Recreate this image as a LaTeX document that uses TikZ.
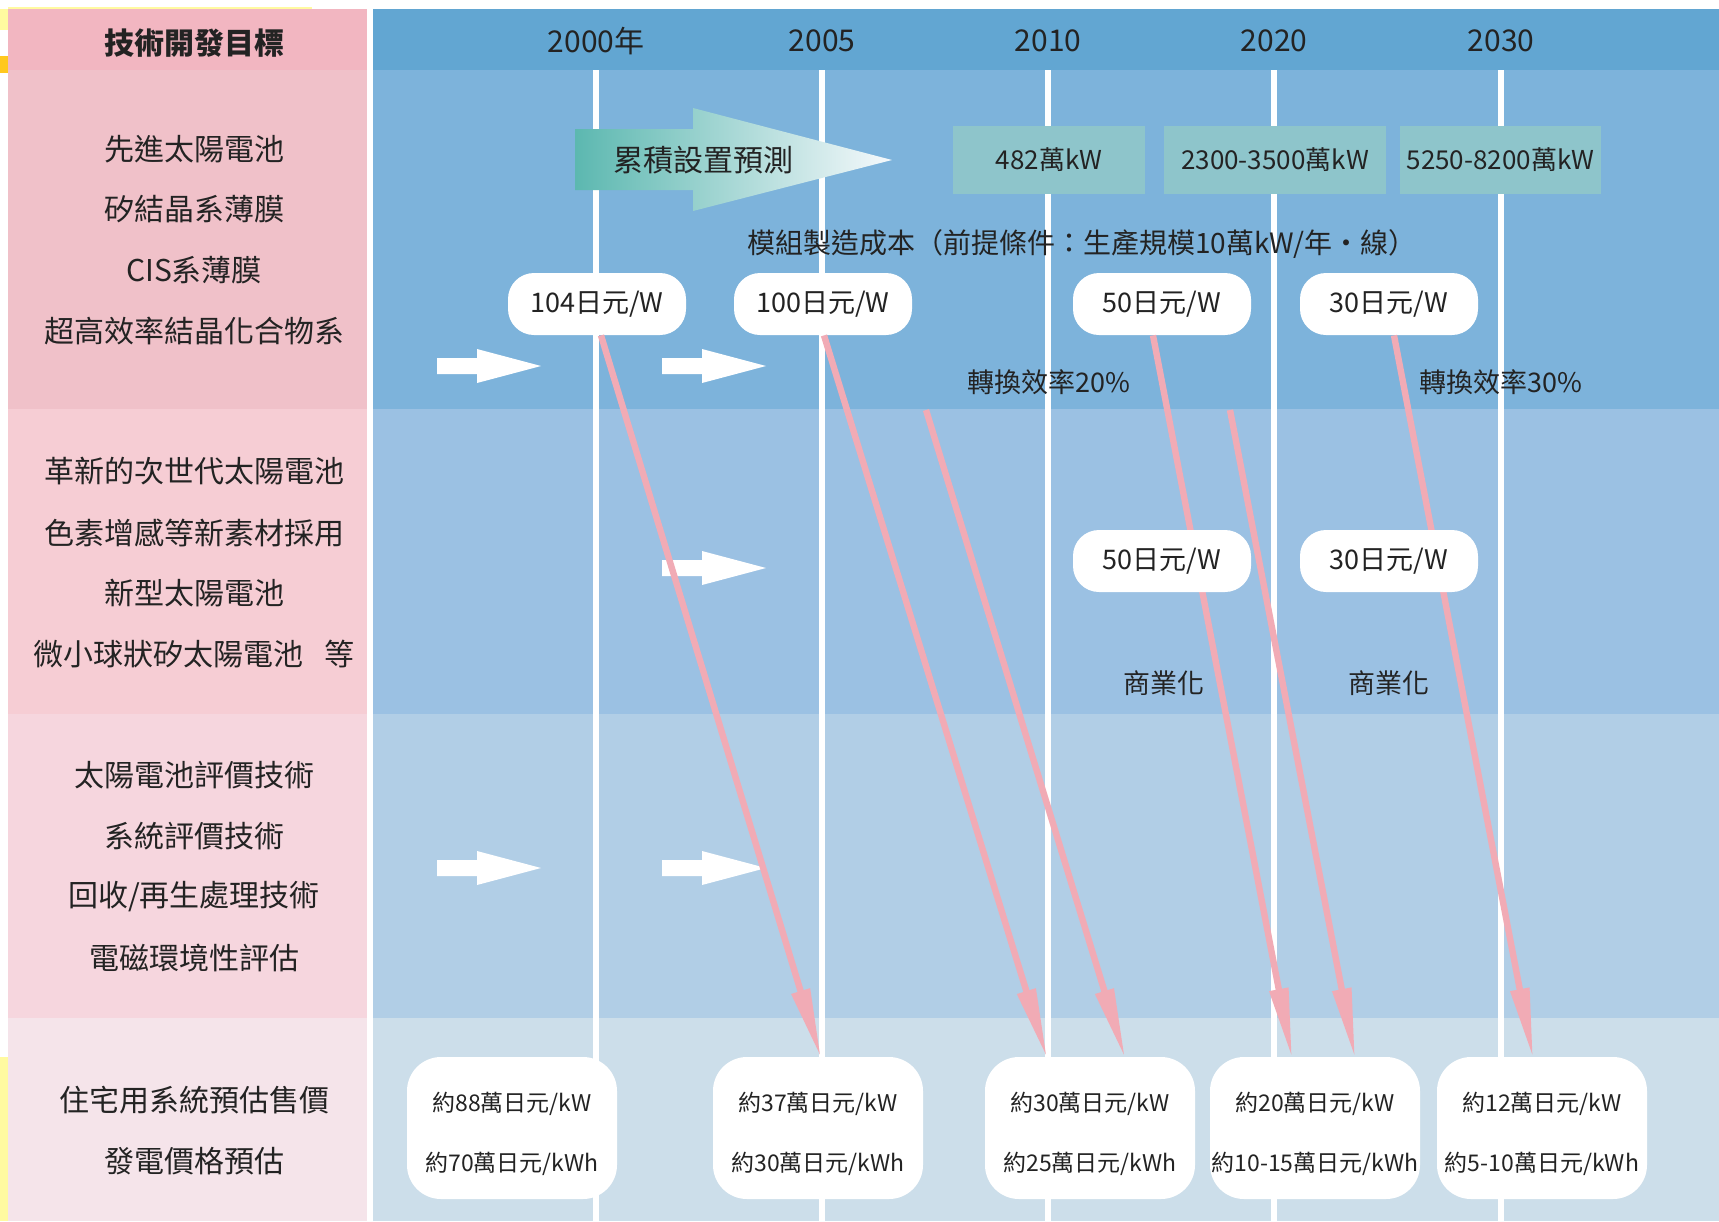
\documentclass[tikz,border=0pt]{standalone}
\usepackage{fontspec}
\setmainfont{Noto Sans CJK TC}
\usetikzlibrary{arrows.meta}
\definecolor{pkH}{RGB}{242,182,193}
\definecolor{pkA}{RGB}{240,193,201}
\definecolor{pkB}{RGB}{246,205,212}
\definecolor{pkC}{RGB}{246,214,222}
\definecolor{pkD}{RGB}{245,228,234}
\definecolor{blH}{RGB}{98,166,210}
\definecolor{blA}{RGB}{125,179,219}
\definecolor{blB}{RGB}{155,193,227}
\definecolor{blC}{RGB}{177,206,230}
\definecolor{blD}{RGB}{204,222,234}
\definecolor{tealbox}{RGB}{142,197,203}
\definecolor{tealL}{RGB}{92,184,176}
\definecolor{tealR}{RGB}{246,249,252}
\definecolor{pinkarr}{RGB}{241,171,181}
\definecolor{txt}{RGB}{35,35,35}
\definecolor{ylw}{RGB}{255,250,160}
\definecolor{orng}{RGB}{255,200,30}
\tikzset{
  lbl/.style={text=txt,inner sep=0pt,font=\fontsize{15pt}{18pt}\selectfont},
  hdr/.style={text=txt,inner sep=0pt,font=\fontsize{15pt}{18pt}\selectfont\bfseries},
  yr/.style={text=txt,inner sep=0pt,font=\fontsize{15pt}{18pt}\selectfont},
  mid/.style={text=txt,inner sep=0pt,font=\fontsize{13.5pt}{16pt}\selectfont},
  tbox/.style={fill=tealbox,text=txt,inner sep=0pt,minimum height=34pt,font=\fontsize{13pt}{16pt}\selectfont},
  pill/.style={fill=white,text=txt,inner sep=0pt,rounded corners=13pt,minimum width=89pt,minimum height=31pt,font=\fontsize{13.5pt}{16pt}\selectfont},
  bbox/.style={fill=white,inner sep=0pt,rounded corners=17pt,minimum width=105pt,minimum height=71pt},
  btxt/.style={text=txt,inner sep=0pt,align=center,font=\fontsize{11.5pt}{30pt}\selectfont},
  pinkline/.style={draw=pinkarr,line width=3.2pt,-{Triangle[length=35pt,width=9pt]}},
  vline/.style={draw=white,line width=3pt},
  whitearrow/.pic={\fill[white] (0,-8) -- (40,-8) -- (40,-17) -- (104,0) -- (40,17) -- (40,8) -- (0,8) -- cycle;}
}
\begin{document}
\begin{tikzpicture}[x=0.5pt,y=-0.5pt]
\useasboundingbox (0,0) rectangle (1719,1221);
\fill[white] (0,0) rectangle (1719,1221);
% left edge decorations
\fill[ylw] (0,9) rectangle (8,30);
\fill[ylw] (8,7) rectangle (312,9);
\fill[orng] (0,56) rectangle (8,73);
\fill[ylw] (0,1057) rectangle (8,1221);
% pink panel
\fill[pkH] (8,9) rectangle (367,70);
\fill[pkA] (8,70) rectangle (367,409);
\fill[pkB] (8,409) rectangle (367,714);
\fill[pkC] (8,714) rectangle (367,1018);
\fill[pkD] (8,1018) rectangle (367,1221);
% blue panel
\fill[blH] (373,9) rectangle (1719,70);
\fill[blA] (373,70) rectangle (1719,409);
\fill[blB] (373,409) rectangle (1719,714);
\fill[blC] (373,714) rectangle (1719,1018);
\fill[blD] (373,1018) rectangle (1719,1221);
% vertical year lines
\foreach \x in {596,822,1048,1274,1501} \draw[vline] (\x,70) -- (\x,1221);
% header
\node[hdr] (hd) at (194,43) {技術開發目標};
\node[yr] (y2000) at (596,41) {2000年};
\node[yr] (y2005) at (822,41) {2005};
\node[yr] (y2010) at (1048,41) {2010};
\node[yr] (y2020) at (1274,41) {2020};
\node[yr] (y2030) at (1501,41) {2030};
% left labels
\node[lbl] (l11) at (194,149) {先進太陽電池};
\node[lbl] (l12) at (194,209) {矽結晶系薄膜};
\node[lbl] (l13) at (194,270) {CIS系薄膜};
\node[lbl] (l14) at (194,331) {超高效率結晶化合物系};
\node[lbl] (l21) at (194,471) {革新的次世代太陽電池};
\node[lbl] (l22) at (194,533) {色素增感等新素材採用};
\node[lbl] (l23) at (194,593) {新型太陽電池};
\node[lbl] (l24) at (194,654) {微小球狀矽太陽電池\hspace{0.7em}等};
\node[lbl] (l31) at (194,775) {太陽電池評價技術};
\node[lbl] (l32) at (194,836) {系統評價技術};
\node[lbl] (l33) at (194,897) {回收/再生處理技術};
\node[lbl] (l34) at (194,958) {電磁環境性評估};
\node[lbl] (l41) at (194,1100) {住宅用系統預估售價};
\node[lbl] (l42) at (194,1161) {發電價格預估};
% gradient arrow
\shade[left color=tealL,right color=tealR] (575,129) -- (693,129) -- (693,108) -- (892,160) -- (693,211) -- (693,190) -- (575,190) -- cycle;
\node[lbl] (cum) at (703,160) {累積設置預測};
% top boxes
\node[tbox,minimum width=96pt] (k1) at (1049,160) {482萬kW};
\node[tbox,minimum width=111pt] (k2) at (1275,160) {2300-3500萬kW};
\node[tbox,minimum width=100.5pt] (k3) at (1500.5,160) {5250-8200萬kW};
\node[mid,font=\fontsize{14pt}{16pt}\selectfont] (cost) at (1082,244) {模組製造成本（前提條件：生產規模10萬kW/年・線）};
% white arrows
\pic at (437,366) {whitearrow};
\pic at (662,366) {whitearrow};
\pic at (662,568) {whitearrow};
\pic at (437,868) {whitearrow};
\pic at (662,868) {whitearrow};
% texts
\node[mid] (eff20) at (1049,382) {轉換效率20\%};
\node[mid] (eff30) at (1501,382) {轉換效率30\%};
\node[mid] (com1) at (1164,683) {商業化};
\node[mid] (com2) at (1389,683) {商業化};
% row 1 pills
\node[pill] (p104) at (597,304) {104日元/W};
\node[pill] (p100) at (823,304) {100日元/W};
\node[pill] (p50) at (1162,304) {50日元/W};
\node[pill] (p30) at (1389,304) {30日元/W};
% bottom boxes
\node[bbox] (b88) at (512,1128) {};
\node[bbox] (b37) at (818,1128) {};
\node[bbox] (b30) at (1090,1128) {};
\node[bbox] (b20) at (1315,1128) {};
\node[bbox] (b12) at (1542,1128) {};
\node[btxt] (b88t) at (512,1134) {約88萬日元/kW\\約70萬日元/kWh};
\node[btxt] (b37t) at (818,1134) {約37萬日元/kW\\約30萬日元/kWh};
\node[btxt] (b30t) at (1090,1134) {約30萬日元/kW\\約25萬日元/kWh};
\node[btxt] (b20t) at (1315,1134) {約20萬日元/kW\\約10-15萬日元/kWh};
\node[btxt] (b12t) at (1542,1134) {約12萬日元/kW\\約5-10萬日元/kWh};
% pink arrows
\coordinate (s3) at (926,410);
\coordinate (s5) at (1230,410);
\coordinate (t1) at (821,1058);
\coordinate (t2) at (1047,1058);
\coordinate (t3) at (1125,1058);
\coordinate (t4) at (1292,1058);
\coordinate (t5) at (1355,1058);
\coordinate (t6) at (1533,1058);
\draw[pinkline] ([xshift=2pt]p104.south) -- (t1);
\draw[pinkline] ([xshift=0.5pt]p100.south) -- (t2);
\draw[pinkline] (s3) -- (t3);
\draw[pinkline] ([xshift=-4.5pt]p50.south) -- (t4);
\draw[pinkline] (s5) -- (t5);
\draw[pinkline] ([xshift=2.5pt]p30.south) -- (t6);
% row 2 pills (over the arrows)
\node[pill] (q50) at (1162,561) {50日元/W};
\node[pill] (q30) at (1389,561) {30日元/W};
\end{tikzpicture}
\end{document}
